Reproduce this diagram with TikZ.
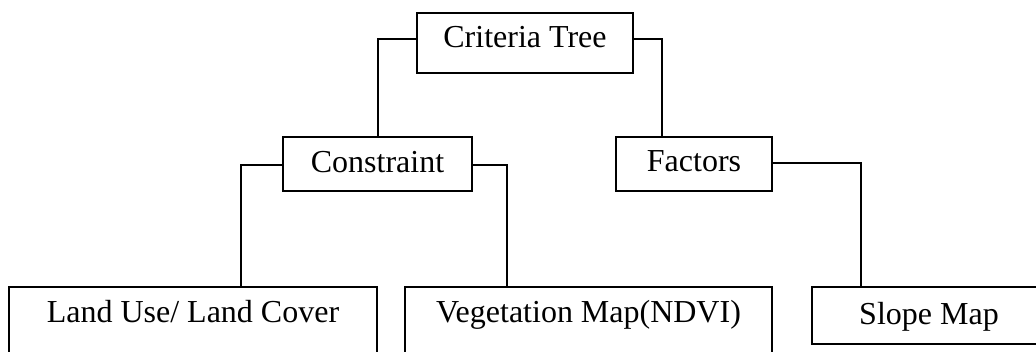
\documentclass[tikz,border=0pt]{standalone}
\usepackage{fontspec}
\setmainfont{Liberation Serif}
\begin{document}
\begin{tikzpicture}[x=1pt,y=-1pt,
  box/.style={draw=black,line width=2pt,inner sep=0pt,anchor=base,font=\fontsize{32}{32}\selectfont},
  link/.style={draw=black,line width=2pt}]
\useasboundingbox (0,0) rectangle (1036,352);
\clip (0,0) rectangle (1036,352);
\node[box,minimum width=216pt,text height=35pt,text depth=25pt] (crit) at (525,48) {Criteria Tree};
\node[box,minimum width=189pt,text height=36pt,text depth=18pt] (cons) at (377.5,173) {Constraint};
\node[box,minimum width=156pt,text height=35pt,text depth=19pt] (fac) at (694,172) {Factors};
\node[box,minimum width=368pt,text height=36pt,text depth=40pt] (land) at (193,323) {Land Use/ Land Cover};
\node[box,minimum width=367pt,text height=36pt,text depth=40pt] (veg) at (588.5,323) {Vegetation Map(NDVI)};
\node[box,minimum width=234pt,text height=38pt,text depth=19pt] (slope) at (929,325) {Slope Map};
\draw[link] ([yshift=4pt]crit.west) -| (cons.north);
\draw[link] ([yshift=4pt]crit.east) -| ([xshift=-32pt]fac.north);
\draw[link] ([yshift=-1pt]cons.west) -| ([xshift=48pt]land.north);
\draw[link] ([yshift=-1pt]cons.east) -| ([xshift=-81.5pt]veg.north);
\draw[link] ([yshift=1pt]fac.east) -| ([xshift=-68pt]slope.north);
\end{tikzpicture}
\end{document}
